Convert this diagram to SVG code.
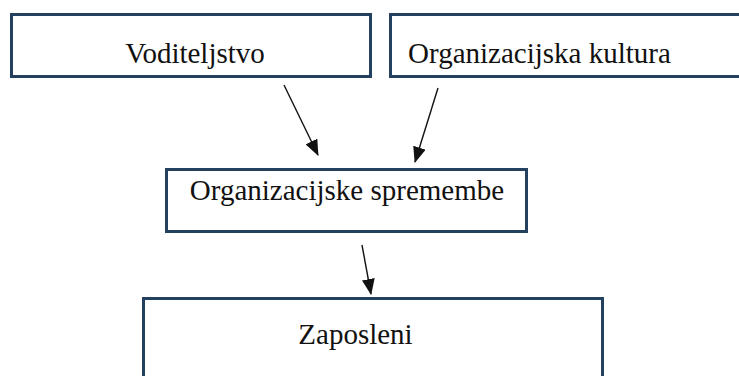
<svg xmlns="http://www.w3.org/2000/svg" width="739" height="376" viewBox="0 0 739 376">
<style>
.box{fill:#fff;stroke:#24405F;stroke-width:3}
.lbl{font-family:'Liberation Serif','Times New Roman',serif;font-size:29px;fill:#111;text-anchor:middle}
.conn{stroke:#111;stroke-width:1.4;fill:none;marker-end:url(#ah)}
</style>
<defs>
<marker id="ah" markerUnits="userSpaceOnUse" markerWidth="16" markerHeight="13" refX="15" refY="6.5" orient="auto" viewBox="0 0 16 13">
<path d="M0,0 L16,6.5 L0,13 z" fill="#111"/>
</marker>
</defs>
<rect width="739" height="376" fill="#fff"/>
<g id="node-voditeljstvo">
<rect class="box" x="11.5" y="14.5" width="359" height="62"/>
<text class="lbl" x="195" y="63">Voditeljstvo</text>
</g>
<g id="node-kultura">
<rect class="box" x="390.5" y="14.5" width="360" height="62"/>
<text class="lbl" x="539.5" y="63">Organizacijska kultura</text>
</g>
<g id="node-spremembe">
<rect class="box" x="166.5" y="169.5" width="360" height="62"/>
<text class="lbl" x="347" y="200">Organizacijske spremembe</text>
</g>
<g id="node-zaposleni">
<rect class="box" x="143.5" y="298.5" width="459" height="100"/>
<text class="lbl" x="355.5" y="344">Zaposleni</text>
</g>
<g id="connectors">
<line class="conn" x1="284" y1="85" x2="318" y2="155"/>
<line class="conn" x1="438" y1="88" x2="415" y2="162"/>
<line class="conn" x1="362" y1="245" x2="371" y2="294"/>
</g>
</svg>
